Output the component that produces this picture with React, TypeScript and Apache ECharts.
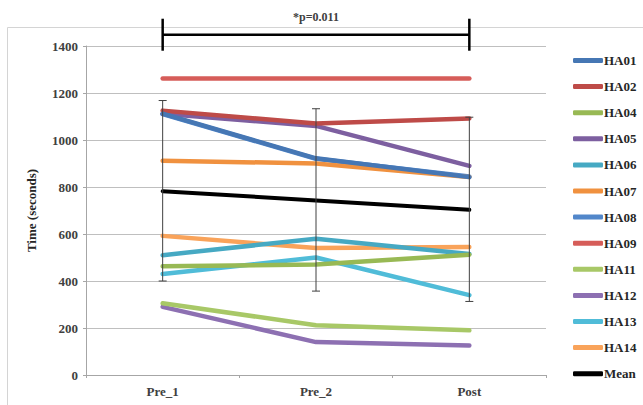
import React, { useEffect, useRef } from "react";
import * as echarts from "echarts";

const categories = ["Pre_1", "Pre_2", "Post"];
const yTicks = [0, 200, 400, 600, 800, 1000, 1200, 1400];

const HA01 = [1112, 922, 842];
const HA02 = [1125, 1070, 1092];
const HA04 = [463, 470, 512];
const HA05 = [1112, 1060, 890];
const HA06 = [510, 580, 515];
const HA07 = [912, 900, 842];
const HA08 = [1110, 920, 845];
const HA09 = [1262, 1262, 1262];
const HA11 = [305, 212, 190];
const HA12 = [290, 140, 126];
const HA13 = [430, 500, 340];
const HA14 = [592, 540, 545];
const Mean = [782, 743, 703];
const sdLow = [400, 357, 313];
const sdHigh = [1168, 1133, 1097];

const bracket = { from: 0, to: 2, level: 1448, label: "*p=0.011" };

const seriesDefs = [
  { name: "HA01", data: HA01, color: "#4677B4" },
  { name: "HA02", data: HA02, color: "#BE4B48" },
  { name: "HA04", data: HA04, color: "#98B954" },
  { name: "HA05", data: HA05, color: "#7D5FA0" },
  { name: "HA06", data: HA06, color: "#46A9C3" },
  { name: "HA07", data: HA07, color: "#F0913F" },
  { name: "HA08", data: HA08, color: "#5287CA" },
  { name: "HA09", data: HA09, color: "#D65D59" },
  { name: "HA11", data: HA11, color: "#A8C867" },
  { name: "HA12", data: HA12, color: "#8D70B2" },
  { name: "HA13", data: HA13, color: "#50BCD8" },
  { name: "HA14", data: HA14, color: "#F9A35A" },
  { name: "Mean", data: Mean, color: "#000000" },
];

const FONT = "'Liberation Serif', 'DejaVu Serif', serif";

export default function App() {
  const ref = useRef<HTMLDivElement>(null);
  useEffect(() => {
    if (!ref.current) return;
    const chart = echarts.init(ref.current, undefined, { renderer: "svg" });
    const lineSeries = seriesDefs.map((s, i) => ({
      name: s.name,
      type: "line",
      data: s.data,
      symbol: "none",
      showSymbol: false,
      z: s.name === "Mean" ? 5 : 3 + (seriesDefs.length - i) * 0.01,
      lineStyle: { color: s.color, width: s.name === "Mean" ? 4 : 4.5, join: "round", cap: "round" },
      itemStyle: { color: s.color },
    }));
    const option: any = {
      animation: false,
      backgroundColor: "#ffffff",
      graphic: [
        {
          type: "rect",
          shape: { x: 7.5, y: 27.5, width: 700, height: 500 },
          style: { fill: "none", stroke: "#d4d4d4", lineWidth: 1 },
          silent: true,
          z: -10,
        },
      ],
      grid: { left: 86, right: 97, top: 46, bottom: 30 },
      legend: {
        orient: "vertical",
        left: 568,
        top: 49,
        itemWidth: 30,
        itemHeight: 5,
        itemGap: 13.1,
        icon: "roundRect",
        data: seriesDefs.map((s) => s.name),
        textStyle: {
          fontFamily: FONT,
          fontWeight: "bold",
          fontSize: 13,
          color: "#262626",
          padding: [0, 0, 0, -4],
        },
      },
      xAxis: {
        type: "category",
        data: categories,
        boundaryGap: true,
        axisLine: { lineStyle: { color: "#a6a6a6", width: 1 } },
        axisTick: { show: true, alignWithLabel: false, length: 3, lineStyle: { color: "#a6a6a6" } },
        axisLabel: {
          fontFamily: FONT,
          fontWeight: "bold",
          fontSize: 13,
          color: "#404040",
          margin: 10,
        },
        splitLine: { show: false },
      },
      yAxis: {
        type: "value",
        min: yTicks[0],
        max: yTicks[yTicks.length - 1],
        interval: 200,
        name: "Time (seconds)",
        nameLocation: "middle",
        nameGap: 48,
        nameRotate: 90,
        nameTextStyle: {
          fontFamily: FONT,
          fontWeight: "bold",
          fontSize: 13,
          color: "#262626",
        },
        axisLine: { show: true, lineStyle: { color: "#a6a6a6", width: 1 } },
        axisTick: { show: true, length: 3, lineStyle: { color: "#a6a6a6" } },
        axisLabel: {
          fontFamily: FONT,
          fontWeight: "bold",
          fontSize: 13,
          color: "#404040",
          margin: 8,
          formatter: (v: number) => String(v),
        },
        splitLine: { show: true, lineStyle: { color: "#bfbfbf", width: 1 } },
      },
      series: [
        ...lineSeries,
        {
          type: "custom",
          name: "sd",
          z: 6,
          clip: false,
          data: categories.map((_, i) => [i, sdLow[i], sdHigh[i]]),
          renderItem: (params: any, api: any) => {
            const x = api.value(0);
            const lo = api.coord([x, api.value(1)]);
            const hi = api.coord([x, api.value(2)]);
            const cw = 4;
            const st = { stroke: "#404040", lineWidth: 1 };
            return {
              type: "group",
              children: [
                { type: "line", shape: { x1: lo[0], y1: lo[1], x2: hi[0], y2: hi[1] }, style: st },
                { type: "line", shape: { x1: hi[0] - cw, y1: hi[1], x2: hi[0] + cw, y2: hi[1] }, style: st },
                { type: "line", shape: { x1: lo[0] - cw, y1: lo[1], x2: lo[0] + cw, y2: lo[1] }, style: st },
              ],
            };
          },
        },
        {
          type: "custom",
          name: "bracket",
          z: 7,
          clip: false,
          data: [[bracket.from, bracket.to, bracket.level]],
          renderItem: (params: any, api: any) => {
            const a = api.coord([api.value(0), api.value(2)]);
            const b = api.coord([api.value(1), api.value(2)]);
            const mid = api.coord([(api.value(0) + api.value(1)) / 2, api.value(2)]);
            const st = { stroke: "#000000", lineWidth: 2.5 };
            const h = 16;
            return {
              type: "group",
              children: [
                { type: "line", shape: { x1: a[0], y1: a[1], x2: b[0], y2: b[1] }, style: st },
                { type: "line", shape: { x1: a[0], y1: a[1] - h, x2: a[0], y2: a[1] + h }, style: st },
                { type: "line", shape: { x1: b[0], y1: b[1] - h, x2: b[0], y2: b[1] + h }, style: st },
                {
                  type: "text",
                  x: mid[0],
                  y: a[1] - 12,
                  style: {
                    text: bracket.label,
                    fontFamily: FONT,
                    fontWeight: "bold",
                    fontSize: 12,
                    fill: "#404040",
                    align: "center",
                    verticalAlign: "bottom",
                  },
                },
              ],
            };
          },
        },
      ],
    };
    chart.setOption(option);
    return () => chart.dispose();
  }, []);
  return (
    <div
      ref={ref}
      style={{ position: "fixed", left: 0, top: 0, width: 643, height: 405, background: "#fff" }}
    />
  );
}
